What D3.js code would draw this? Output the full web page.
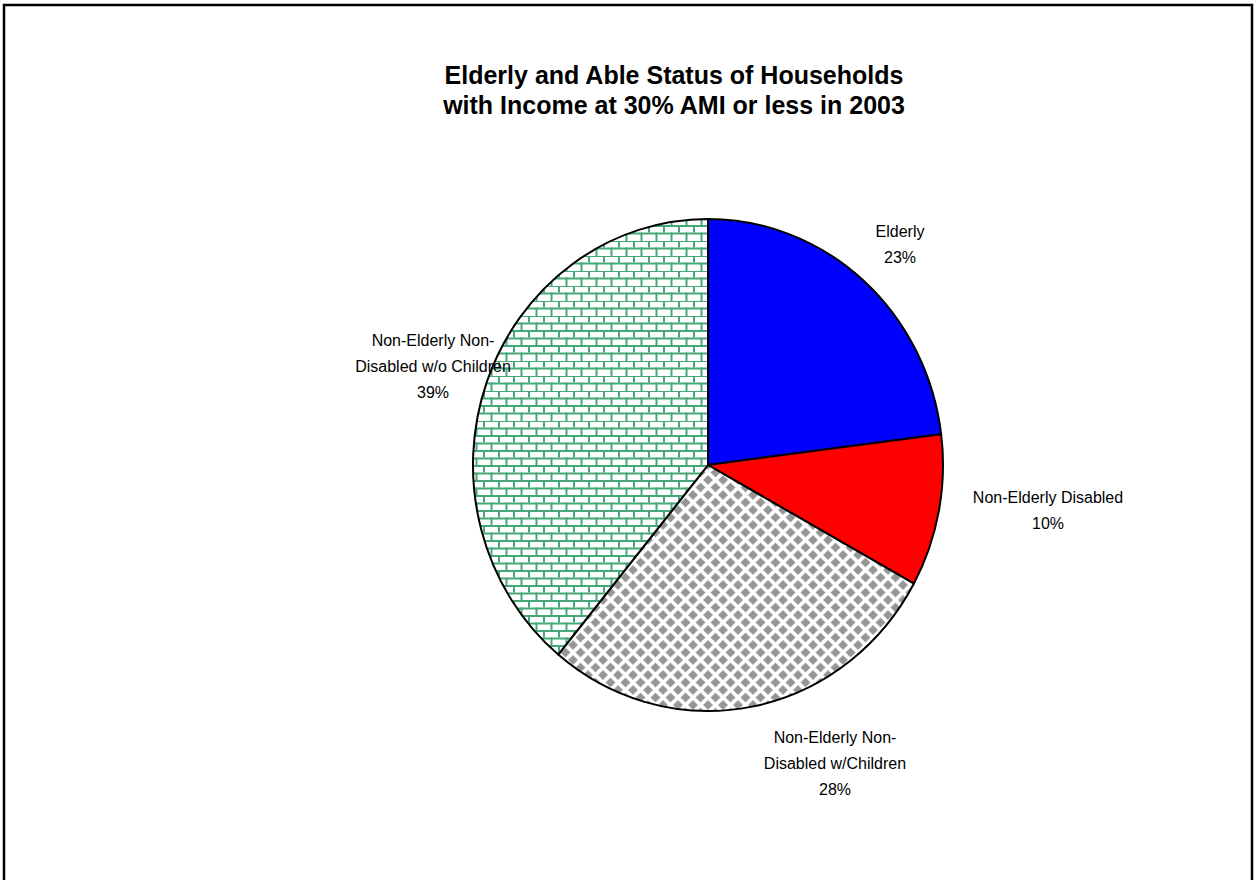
<!DOCTYPE html>
<html>
<head>
<meta charset="utf-8">
<script src="https://cdn.jsdelivr.net/npm/d3@7/dist/d3.min.js"></script>
<style>
  html, body { margin: 0; padding: 0; background: #fff; }
  svg { display: block; font-family: "Liberation Sans", Arial, sans-serif; }
</style>
</head>
<body>
<svg id="chart" width="1254" height="880"></svg>
<script>
// Household groups, share of households (percent)
const categories = [
  "Elderly",
  "Non-Elderly Disabled",
  "Non-Elderly Non-Disabled w/Children",
  "Non-Elderly Non-Disabled w/o Children"
];
const shares = [23, 10, 28, 39];
// Label text lines for each slice
const labelLines = [
  ["Elderly", "23%"],
  ["Non-Elderly Disabled", "10%"],
  ["Non-Elderly Non-", "Disabled w/Children", "28%"],
  ["Non-Elderly Non-", "Disabled w/o Children", "39%"]
];
const titleLines = [
  "Elderly and Able Status of Households",
  "with Income at 30% AMI or less in 2003"
];

const W = 1254, H = 880;
const svg = d3.select("#chart");
const defs = svg.append("defs");

// Pie geometry (slightly taller than wide)
const cx = 708, cy = 465, rx = 235, ry = 246;
const sx = rx / ry;

// Diamond checker fill
const pd = defs.append("pattern")
  .attr("id", "diamonds").attr("patternUnits", "userSpaceOnUse")
  .attr("width", 15).attr("height", 15)
  .attr("patternTransform", `scale(${1 / sx},1)`);
pd.append("rect").attr("width", 15).attr("height", 15).attr("fill", "#fff");
const dpath = (x, y, s) => `M${x},${y - s}L${x + s},${y}L${x},${y + s}L${x - s},${y}Z`;
[[0, 0], [15, 0], [0, 15], [15, 15], [7.5, 7.5]].forEach(([x, y]) =>
  pd.append("path").attr("d", dpath(x, y, 4.8)).attr("fill", "#969696")
    .attr("stroke", "#bdbdbd").attr("stroke-width", 0.6).attr("stroke-linejoin", "round"));

// Brick fill
const pb = defs.append("pattern")
  .attr("id", "bricks").attr("patternUnits", "userSpaceOnUse")
  .attr("width", 15).attr("height", 15)
  .attr("patternTransform", `scale(${1 / sx},1)`);
pb.append("rect").attr("width", 15).attr("height", 15).attr("fill", "#fff");
const mortar = "#45a878";
pb.append("rect").attr("x", 0).attr("y", 0).attr("width", 15).attr("height", 2).attr("fill", mortar);
pb.append("rect").attr("x", 0).attr("y", 7.5).attr("width", 15).attr("height", 2).attr("fill", mortar);
pb.append("rect").attr("x", 0).attr("y", 0).attr("width", 2).attr("height", 7.5).attr("fill", mortar);
pb.append("rect").attr("x", 7.5).attr("y", 7.5).attr("width", 2).attr("height", 7.5).attr("fill", mortar);

const fills = ["#0000ff", "#ff0000", "url(#diamonds)", "url(#bricks)"];

// Outer frame
svg.append("rect")
  .attr("x", 4).attr("y", 5).attr("width", W - 6).attr("height", H + 20)
  .attr("fill", "#fff").attr("stroke", "#000").attr("stroke-width", 2.5);

// Title
const title = svg.append("text")
  .attr("text-anchor", "middle").attr("font-weight", "bold").attr("font-size", 25);
titleLines.forEach((t, i) =>
  title.append("tspan").attr("x", 674).attr("y", 84 + i * 30).text(t));

// Slices
const data = categories.map((c, i) => ({ name: c, value: shares[i], i }));
const pie = d3.pie().value(d => d.value).sort(null);
const arc = d3.arc().innerRadius(0).outerRadius(ry);
const arcs = pie(data);

const g = svg.append("g").attr("transform", `translate(${cx},${cy}) scale(${sx},1)`);
g.selectAll("path.slice").data(arcs).join("path")
  .attr("class", "slice")
  .attr("d", arc)
  .attr("fill", d => fills[d.data.i])
  .attr("stroke", "#000")
  .attr("stroke-width", 2)
  .attr("vector-effect", "non-scaling-stroke")
  .attr("stroke-linejoin", "round");

// Slice labels placed beside their slice
const labelPos = [
  { x: 900, y: 237 },
  { x: 1048, y: 503 },
  { x: 835, y: 743 },
  { x: 433, y: 346 }
];
const lh = 26;
arcs.forEach((a, k) => {
  const t = svg.append("text").attr("text-anchor", "middle").attr("font-size", 16).attr("fill", "#000");
  labelLines[a.data.i].forEach((line, j) =>
    t.append("tspan").attr("x", labelPos[k].x).attr("y", labelPos[k].y + j * lh).text(line));
});
</script>
</body>
</html>
